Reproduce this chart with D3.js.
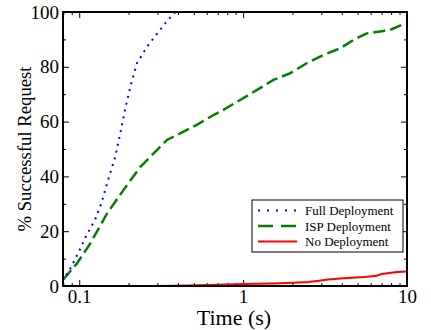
<!DOCTYPE html>
<html><head><meta charset="utf-8">
<script src="https://cdn.jsdelivr.net/npm/d3@7"></script>
<style>
html,body{margin:0;padding:0;background:#fff;}
svg{display:block;}
</style></head>
<body>
<script>
// ---- data ----
const fullTime = [0.083, 0.086, 0.091, 0.101, 0.111, 0.125, 0.136, 0.150, 0.166, 0.178, 0.190, 0.205, 0.225, 0.259, 0.305, 0.351, 0.385, 0.40];
const fullPct  = [4.0, 5.2, 7.9, 13.4, 18.6, 24.3, 29.9, 38.7, 47.2, 55.7, 64.2, 72.7, 81.3, 87.3, 92.8, 97.4, 99.9, 100];
const ispTime = [0.080, 0.097, 0.117, 0.148, 0.186, 0.236, 0.298, 0.343, 0.413, 0.522, 0.659, 0.724, 0.96, 1.21, 1.53, 1.93, 2.44, 3.09, 3.9, 4.71, 5.68, 7.17, 8.07, 9.29, 10];
const ispPct  = [2.4, 8.3, 15.6, 26.5, 35, 43.5, 49.6, 53.3, 55.7, 58.8, 62.4, 63.6, 67.9, 71.5, 75.2, 77.6, 81.3, 84.3, 86.7, 89.8, 92.2, 93.1, 93.7, 95.3, 95.3];
const noTime = [0.08, 0.3, 0.46, 0.7, 1.0, 1.5, 2.03, 2.5, 2.9, 3.3, 4.1, 5.5, 6.5, 7.0, 8.0, 8.7, 10];
const noPct  = [0, 0, 0.2, 0.5, 0.7, 0.9, 1.2, 1.5, 1.9, 2.4, 2.8, 3.3, 3.7, 4.4, 4.8, 5.1, 5.3];
const seriesNames = ["Full Deployment", "ISP Deployment", "No Deployment"];
const xMajorTicks = [0.1, 1, 10];
const xTickLabels = ["0.1", "1", "10"];
const yMajorTicks = [0, 20, 40, 60, 80, 100];
const yMinorTicks = [10, 30, 50, 70, 90];
const xTitle = "Time (s)";
const yTitle = "% Successful Request";

const FONT = "Liberation Serif";

// ---- layout ----
const W = 431, H = 330;
const m = {left: 63, right: 24, top: 12, bottom: 44};
const pw = W - m.left - m.right, ph = H - m.top - m.bottom;

const svg = d3.select("body").append("svg").attr("width", W).attr("height", H);
const g = svg.append("g").attr("transform", `translate(${m.left},${m.top})`);

const x = d3.scaleLog().domain([0.0796, 10]).range([0, pw]);
const y = d3.scaleLinear().domain([0, 100]).range([ph, 0]);

const xMinor = [];
for (const dec of [0.01, 0.1, 1]) for (let k = 2; k <= 9; k++) { const v = k * dec; if (v >= 0.0796 && v < 10) xMinor.push(v); }

function tickGroup(axisFn, scale, vals, size) {
  return axisFn(scale).tickValues(vals).tickSize(size).tickFormat("");
}
const tickStyle = sel => { sel.select(".domain").remove(); sel.selectAll("line").attr("stroke", "#000").attr("stroke-width", 1); };

// inward ticks on all four sides
g.append("g").attr("transform", `translate(0,${ph})`).call(tickGroup(d3.axisTop, x, xMajorTicks, 6)).call(tickStyle);
g.append("g").attr("transform", `translate(0,${ph})`).call(tickGroup(d3.axisTop, x, xMinor, 3)).call(tickStyle);
g.append("g").call(tickGroup(d3.axisBottom, x, xMajorTicks, 6)).call(tickStyle);
g.append("g").call(tickGroup(d3.axisBottom, x, xMinor, 3)).call(tickStyle);
g.append("g").call(tickGroup(d3.axisRight, y, yMajorTicks, 6)).call(tickStyle);
g.append("g").call(tickGroup(d3.axisRight, y, yMinorTicks, 3)).call(tickStyle);
g.append("g").attr("transform", `translate(${pw},0)`).call(tickGroup(d3.axisLeft, y, yMajorTicks, 6)).call(tickStyle);
g.append("g").attr("transform", `translate(${pw},0)`).call(tickGroup(d3.axisLeft, y, yMinorTicks, 3)).call(tickStyle);

// tick labels
const xl = g.append("g").attr("transform", `translate(0,${ph})`)
  .call(d3.axisBottom(x).tickValues(xMajorTicks).tickSize(0).tickPadding(3).tickFormat((d, i) => xTickLabels[i]));
xl.select(".domain").remove();
xl.attr("font-family", FONT).attr("font-size", 19);
xl.selectAll("text").style("font-size", "19px").style("font-family", FONT).attr("fill", "#000");

const yl = g.append("g")
  .call(d3.axisLeft(y).tickValues(yMajorTicks).tickSize(0).tickPadding(4));
yl.select(".domain").remove();
yl.attr("font-family", FONT).attr("font-size", 19);
yl.selectAll("text").style("font-size", "19px").style("font-family", FONT).attr("fill", "#000");

// clip
svg.append("clipPath").attr("id", "clip").append("rect").attr("width", pw).attr("height", ph + 1).attr("y", -1);
const plot = g.append("g").attr("clip-path", "url(#clip)");

const line = d3.line().x(d => x(d[0])).y(d => y(d[1]));
const zip = (a, b) => a.map((v, i) => [v, b[i]]);

const styles = [
  {color: "#0000ff", dash: "2,5", width: 2, data: zip(fullTime, fullPct)},
  {color: "#008000", dash: "12,5", width: 2.5, data: zip(ispTime, ispPct)},
  {color: "#ff0000", dash: null, width: 2, data: zip(noTime, noPct)}
];
[2, 1, 0].forEach(i => {
  const s = styles[i];
  plot.append("path").datum(s.data).attr("d", line)
    .attr("fill", "none").attr("stroke", s.color).attr("stroke-width", s.width)
    .attr("stroke-dasharray", s.dash);
});

// frame
g.append("rect").attr("width", pw).attr("height", ph).attr("fill", "none").attr("stroke", "#000").attr("stroke-width", 2);

// titles
svg.append("text").attr("x", m.left + pw / 2 - 1).attr("y", 325).attr("text-anchor", "middle")
  .style("font-size", "22px").style("font-family", FONT).text(xTitle);
svg.append("text").attr("transform", `translate(31,${m.top + ph / 2}) rotate(-90)`).attr("text-anchor", "middle")
  .style("font-size", "18.7px").style("font-family", FONT).text(yTitle);

// legend
const lg = svg.append("g").attr("transform", "translate(252,200)");
lg.append("rect").attr("width", 151).attr("height", 52).attr("fill", "#fff").attr("stroke", "#000").attr("stroke-width", 1);
seriesNames.forEach((name, i) => {
  const s = styles[i];
  const yy = 10.5 + i * 15.5;
  lg.append("line").attr("x1", 6).attr("x2", 45).attr("y1", yy).attr("y2", yy)
    .attr("stroke", s.color).attr("stroke-width", s.width)
    .attr("stroke-dasharray", i === 0 ? "2,7" : (i === 1 ? "15,8" : null));
  lg.append("text").attr("x", 53).attr("y", yy + 4.5)
    .style("font-size", "13px").style("font-family", FONT).text(name);
});
</script>
</body></html>
